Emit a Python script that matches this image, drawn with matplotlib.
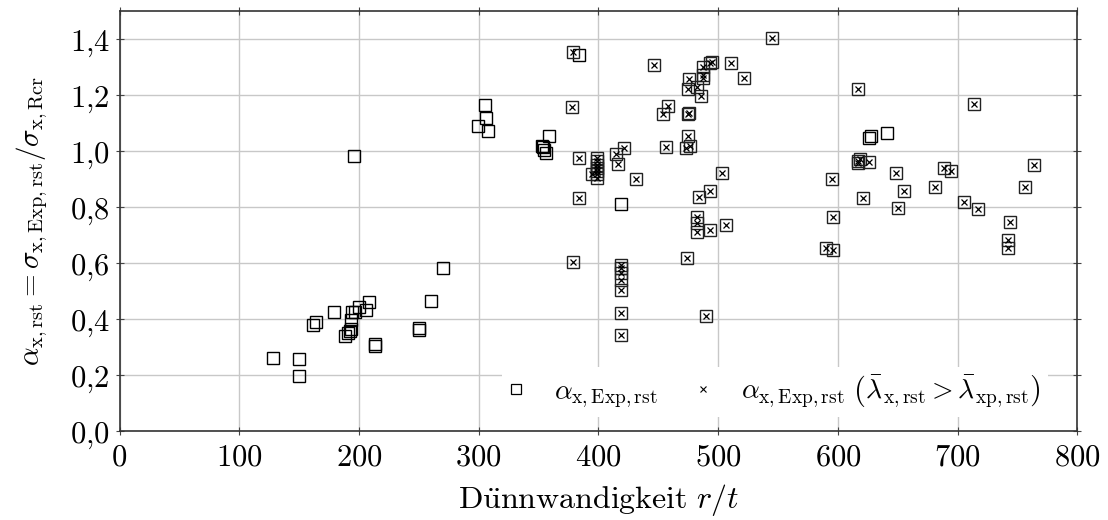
import matplotlib
matplotlib.use("Agg")
import matplotlib.pyplot as plt
from matplotlib.ticker import FuncFormatter

plt.rcParams['mathtext.fontset'] = 'cm'
plt.rcParams['font.family'] = ['DejaVu Serif']

# Series 1: alpha_x,Exp,rst (squares only)
r_sq = [128, 150, 150, 162, 164, 179, 188, 190.5, 192.6, 193.7, 193.7, 194.5, 196.8,
        200, 205.7, 208, 213, 213, 196, 250, 250, 260, 270.5, 299, 305, 306, 308,
        352.7, 354, 354.6, 356, 359, 384, 418.7, 625.6, 627.6, 641]
a_sq = [0.263, 0.258, 0.197, 0.38, 0.39, 0.426, 0.341, 0.35, 0.359, 0.367, 0.397, 0.427, 0.427,
        0.444, 0.433, 0.46, 0.31, 0.303, 0.983, 0.368, 0.36, 0.465, 0.582, 1.089, 1.164, 1.12, 1.072,
        1.02, 1.014, 1.005, 0.993, 1.056, 1.343, 0.812, 1.046, 1.055, 1.065]

# Series 2: alpha_x,Exp,rst with lambda_x,rst > lambda_xp,rst (square + cross)
r_x = [379, 378, 446, 384, 384, 398.7, 398.7, 398.7, 398.7, 398.7, 398.7, 398.7, 394.5,
       414.8, 421.7, 416.7, 431.2, 379,
       419, 419, 419, 419, 419, 419, 419,
       545, 487.7, 494.7, 493.5, 510.6, 521.4, 476, 487.2, 487.5, 474.4, 482.2, 485.5,
       617.2, 714.1, 458.5, 454.3, 475.2, 476, 474.4, 456.6, 473, 476.6,
       617.2, 618.6, 625.6, 616.4, 648.5, 688.8, 694.4, 764, 503.3, 595.5,
       493.1, 483.6, 620.9, 655.4, 681, 756.2, 650.6, 705.5, 717, 744, 596.3,
       482.2, 482.2, 482.2, 493.3, 506.4, 474.1, 490, 590.2, 596.3, 742, 742]
a_x = [1.354, 1.159, 1.308, 0.977, 0.832, 0.977, 0.965, 0.952, 0.94, 0.93, 0.918, 0.905, 0.918,
       0.989, 1.012, 0.955, 0.901, 0.603,
       0.594, 0.582, 0.566, 0.54, 0.505, 0.421, 0.344,
       1.404, 1.30, 1.319, 1.314, 1.314, 1.263, 1.258, 1.261, 1.272, 1.223, 1.229, 1.198,
       1.223, 1.168, 1.161, 1.133, 1.132, 1.137, 1.056, 1.017, 1.011, 1.019,
       0.966, 0.972, 0.962, 0.959, 0.922, 0.940, 0.931, 0.951, 0.921, 0.901,
       0.859, 0.836, 0.833, 0.858, 0.874, 0.873, 0.799, 0.818, 0.795, 0.746, 0.764,
       0.766, 0.743, 0.713, 0.719, 0.738, 0.618, 0.413, 0.654, 0.648, 0.683, 0.654]

x_ticks = [0, 100, 200, 300, 400, 500, 600, 700, 800]
y_ticks = [0.0, 0.2, 0.4, 0.6, 0.8, 1.0, 1.2, 1.4]

fig = plt.figure(figsize=(11.08, 5.2), dpi=100)
ax = fig.add_axes([0.1079, 0.1706, 0.9723 - 0.1079, 0.9783 - 0.1706])

ax.plot(r_sq, a_sq, linestyle='none', marker='s', markersize=8, markerfacecolor='none',
        markeredgecolor='black', markeredgewidth=1.0, zorder=3)
ax.plot(r_x, a_x, linestyle='none', marker='s', markersize=8, markerfacecolor='none',
        markeredgecolor='#222222', markeredgewidth=1.0, zorder=3)
ax.plot(r_x, a_x, linestyle='none', marker='x', markersize=5, markeredgecolor='black',
        markeredgewidth=0.9, zorder=4)

# legend handles
h1, = ax.plot([], [], linestyle='none', marker='s', markersize=7, markerfacecolor='none',
              markeredgecolor='black', markeredgewidth=0.9)
h2, = ax.plot([], [], linestyle='none', marker='x', markersize=4.5, markeredgecolor='black',
              markeredgewidth=0.8)
leg = ax.legend([h1, h2],
                [r'$\alpha_{\mathrm{x,Exp,rst}}$',
                 r'$\alpha_{\mathrm{x,Exp,rst}}\ \left(\bar{\lambda}_{\mathrm{x,rst}} > \bar{\lambda}_{\mathrm{xp,rst}}\right)$'],
                loc='lower right', bbox_to_anchor=(0.969, 0.034), borderaxespad=0.0,
                ncol=2, fontsize=20,
                frameon=True, fancybox=False, framealpha=1.0, edgecolor='white',
                handlelength=0.5, handletextpad=1.1, columnspacing=1.4, borderpad=0.25)
leg.get_frame().set_linewidth(0)
leg.set_zorder(5)

ax.set_xlim(0, 800)
ax.set_ylim(0, 1.5)
ax.set_xticks(x_ticks)
ax.set_yticks(y_ticks)
ax.xaxis.set_major_formatter(FuncFormatter(lambda v, p: r'$%d$' % v))
ax.yaxis.set_major_formatter(FuncFormatter(lambda v, p: (r'$%.1f$' % v).replace('.', '{,}')))
ax.tick_params(axis='both', which='major', direction='inout', length=6, width=0.8,
               top=True, right=True, labelsize=22, color='#444444', pad=4)
ax.grid(True, color='#c8c8c8', linewidth=1.0, zorder=0)
ax.set_axisbelow(True)
for s in ax.spines.values():
    s.set_linewidth(1.2)
    s.set_color('#333333')

ax.set_xlabel(r'$\mathrm{D\ddot{u}nnwandigkeit}\ r/t$', fontsize=23, labelpad=7)
ax.set_ylabel(r'$\alpha_{\mathrm{x,rst}} = \sigma_{\mathrm{x,Exp,rst}}/\sigma_{\mathrm{x,Rcr}}$',
              fontsize=21, labelpad=14)

fig.savefig('out.png', dpi=100)
